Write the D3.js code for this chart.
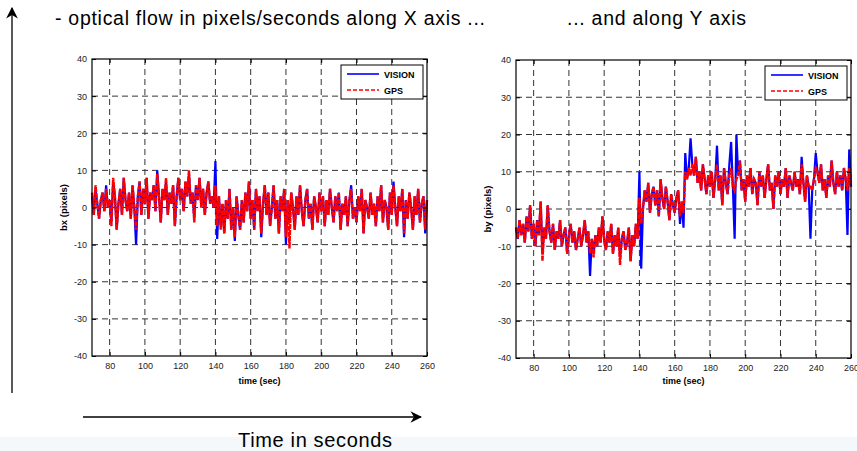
<!DOCTYPE html>
<html>
<head>
    <meta charset="utf-8">
    <title>Optical flow</title>
    <script src="https://d3js.org/d3.v7.min.js"></script>
    <style>
      body { margin: 0; background: #fff; }
      text { font-family: "Liberation Sans", Arial, sans-serif; }
    </style>
</head>

<body>

<div id="my_dataviz"></div>

<script>

// ---- data (1 sample / second, 70 .. 260 s)
var time = d3.range(70, 261, 1);

var xTicks = [80, 100, 120, 140, 160, 180, 200, 220, 240, 260];
var yTicks = [-40, -30, -20, -10, 0, 10, 20, 30, 40];

var bxVision = [
  3, -2, 5, 1, -3, 2, 4, -1, 6, 0,
  2, -4, 7, 3, -6, 1, 5, -2, 8, 2,
  -1, 4, -3, 6, 0, -10, 3, 7, -2, 5,
  1, 8, -3, 4, 2, 6, -1, 10, 3, -4,
  5, 2, 7, -2, 4, 1, 6, -5, 3, 8,
  2, 5, -1, 7, 3, 9, 1, 4, -3, 6,
  2, 8, 0, 5, -2, 4, 7, 1, 3, 0,
  12.5, -8.5, 3, -5, 1, -7, 2, -3, 5, -6,
  0, -9, 3, -2, -6, 2, -4, 4, -1, 7,
  -3, 2, -6, 5, -1, 3, -8, 1, 6, -2,
  4, -5, 0, 6, -3, 2, -7, 3, -1, 5,
  -10, 2, -4, 4, 0, -6, 3, -2, 6, -1,
  -5, 2, 5, -3, 1, -6, 3, 0, -4, 4,
  -1, 3, -5, 2, -2, 5, 0, -4, 3, -1,
  4, -6, 1, -2, 3, -5, 2, 6, -3, 0,
  -4, 3, -1, 5, -7, 2, 0, -3, 4, -2,
  1, -5, 3, -1, 6, -4, 2, 0, -6, 4,
  -2, 7, 0, -5, 3, -1, 5, -8, 2, -3,
  4, 0, -6, 3, -2, 5, -4, 1, 3, -7,
  2
];

var bxGps = [
  4, -2, 6, 1, -3, 2, 4, -1, 5, 0,
  2, -5, 8, 3, -6, 1, 5, -2, 8, 2,
  -1, 4, -3, 6, 0, -6, 3, 7, -2, 5,
  1, 8, -3, 4, 2, 6, -1, 9, 3, -4,
  5, 2, 8, -2, 4, 1, 6, -5, 3, 8,
  2, 5, -1, 7, 3, 10, 1, 4, -4, 6,
  2, 8, 0, 5, -2, 4, 7, 1, 3, 0,
  6, -5, 3, -6, 1, -7, 2, -3, 5, -6,
  0, -8, 3, -2, -6, 2, -4, 4, -1, 7,
  -3, 2, -6, 5, -1, 3, -7, 1, 6, -2,
  4, -5, 0, 6, -3, 2, -7, 3, -1, 5,
  -8, 2, -11, 4, 0, -6, 3, -2, 6, -1,
  -5, 2, 5, -3, 1, -6, 3, 0, -4, 4,
  -1, 3, -5, 2, -2, 5, 0, -4, 3, -1,
  4, -6, 1, -2, 3, -5, 2, 5, -3, 0,
  -4, 3, -1, 5, -7, 2, 0, -3, 4, -2,
  1, -5, 3, -1, 6, -4, 2, 0, -6, 4,
  -2, 6, 0, -5, 3, -1, 5, -7, 2, -3,
  4, 0, -6, 3, -2, 5, -4, 1, 3, -6,
  2
];

var byVision = [
  -5, -8, -3, -7, -4, -9, -2, -6, 1, -8,
  -4, -10, -3, -7, 2, -12, -5, -8, 1, -6,
  -9, -4, -11, -6, -8, -3, -10, -7, -5, -12,
  -7, -4, -9, -6, -11, -8, -5, -10, -7, -3,
  -9, -6, -18, -8, -12, -7, -10, -5, -9, -2,
  -8, -11, -6, -9, -4, -12, -7, -10, -5, -13,
  -8, -6, -11, -9, -5, -14, -7, -10, -4, -8,
  10, -16, 0, 5, 2, 7, -1, 4, 6, 1,
  5, -2, 8, 3, 0, 6, 2, -3, 4, 1,
  -1, 3, 5, -4, 2, -5, 15, 8, 11, 19,
  12, 9, 14, 7, 10, 5, 12, 8, 4, 9,
  6, 10, 3, 8, 17, 5, 9, 1, 11, 7,
  4, 12, 18, 6, -8, 20, 9, 13, 5, 8,
  2, 9, 6, 11, 4, 8, 7, 1, 10, 6,
  9, 3, 8, 12, 5, 7, 0, 9, 6, 10,
  4, 8, 6, 11, 3, 9, 7, 5, 10, 6,
  8, 4, 14, 7, 2, 9, 6, -8, 5, 8,
  15, 10, 7, 12, 5, 8, 3, 9, 6, 13,
  7, 4, 10, 6, 9, 5, 11, 8, -7, 16,
  6
];

var byGps = [
  -5, -8, -3, -7, -4, -9, -2, -6, 1, -8,
  -4, -10, -3, -7, 2, -14, -5, -8, 1, -6,
  -9, -4, -11, -6, -8, -3, -10, -7, -5, -12,
  -7, -4, -9, -6, -11, -8, -5, -10, -7, -3,
  -9, -6, -12, -8, -13, -7, -10, -5, -9, -2,
  -8, -11, -6, -9, -4, -12, -7, -10, -5, -15,
  -8, -6, -11, -9, -5, -14, -7, -10, -4, -8,
  3, -4, 0, 5, 2, 7, -1, 4, 6, 1,
  5, -2, 8, 3, 0, 6, 2, -3, 4, 1,
  -1, 3, 5, -2, 2, -1, 10, 8, 11, 9,
  12, 9, 14, 7, 10, 5, 12, 8, 4, 9,
  6, 10, 3, 8, 12, 5, 9, 1, 11, 7,
  4, 9, 11, 6, 5, 8, 9, 13, 5, 8,
  2, 9, 6, 11, 4, 8, 7, 1, 10, 6,
  9, 3, 8, 12, 5, 7, 0, 9, 6, 10,
  4, 8, 6, 11, 3, 9, 7, 5, 10, 6,
  8, 4, 12, 7, 2, 9, 6, 6, 5, 8,
  11, 10, 7, 12, 5, 8, 3, 9, 6, 13,
  7, 4, 10, 6, 9, 5, 11, 8, 5, 11,
  6
];

// two panels, pixel boxes of the axes
var panels = [
  { left: 92,  top: 59, right: 427, bottom: 356, label: "bx (pixels)", vision: bxVision, gps: bxGps },
  { left: 516, top: 60, right: 851, bottom: 358, label: "by (pixels)", vision: byVision, gps: byGps }
];

var W = 857, H = 451;

var svg = d3.select("#my_dataviz")
  .append("svg")
    .attr("width", W)
    .attr("height", H);

// faint band at the very bottom
svg.append("rect")
  .attr("x", 0).attr("y", 437)
  .attr("width", W).attr("height", H - 437)
  .attr("fill", "#f4f8fb");

// arrow marker
svg.append("defs").append("marker")
    .attr("id", "arrow")
    .attr("viewBox", "0 0 10 10")
    .attr("refX", 9).attr("refY", 5)
    .attr("markerWidth", 9).attr("markerHeight", 9)
    .attr("orient", "auto")
  .append("path")
    .attr("d", "M0,0 L10,5 L0,10 L3,5 z")
    .attr("fill", "#000");

// titles (the reference text is set wide, so stretch to its measured width)
svg.append("text")
  .attr("x", 55).attr("y", 25)
  .attr("font-size", 19.5)
  .attr("textLength", 430).attr("lengthAdjust", "spacing")
  .text("- optical flow in pixels/seconds along X axis ...");
svg.append("text")
  .attr("x", 567).attr("y", 25)
  .attr("font-size", 19.5)
  .attr("textLength", 179).attr("lengthAdjust", "spacing")
  .text("... and along Y axis");

// big arrows
svg.append("line")
  .attr("x1", 12).attr("y1", 393).attr("x2", 12).attr("y2", 8)
  .attr("stroke", "#000").attr("stroke-width", 1.3)
  .attr("marker-end", "url(#arrow)");
svg.append("line")
  .attr("x1", 83).attr("y1", 417).attr("x2", 421).attr("y2", 417)
  .attr("stroke", "#000").attr("stroke-width", 1.3)
  .attr("marker-end", "url(#arrow)");
svg.append("text")
  .attr("x", 238).attr("y", 447)
  .attr("font-size", 20)
  .attr("textLength", 154).attr("lengthAdjust", "spacing")
  .text("Time in seconds");

panels.forEach(function(p) {

  var x = d3.scaleLinear().domain([70, 260]).range([p.left, p.right]);
  var y = d3.scaleLinear().domain([-40, 40]).range([p.bottom, p.top]);

  var g = svg.append("g");

  // white plot area
  g.append("rect")
    .attr("x", p.left).attr("y", p.top)
    .attr("width", p.right - p.left).attr("height", p.bottom - p.top)
    .attr("fill", "#fff");

  // dashed grid
  g.selectAll(".vgrid")
    .data(xTicks.filter(function(d) { return d < 260; }))
    .enter().append("line")
      .attr("x1", function(d) { return x(d); })
      .attr("x2", function(d) { return x(d); })
      .attr("y1", p.top).attr("y2", p.bottom)
      .attr("stroke", "#333").attr("stroke-width", 1)
      .attr("stroke-dasharray", "6,4");
  g.selectAll(".hgrid")
    .data(yTicks.filter(function(d) { return d > -40 && d < 40; }))
    .enter().append("line")
      .attr("y1", function(d) { return y(d); })
      .attr("y2", function(d) { return y(d); })
      .attr("x1", p.left).attr("x2", p.right)
      .attr("stroke", "#333").attr("stroke-width", 1)
      .attr("stroke-dasharray", "6,4");

  // series
  var line = d3.line()
    .x(function(d, i) { return x(time[i]); })
    .y(function(d) { return y(d); });

  g.append("path")
    .datum(p.vision)
    .attr("fill", "none")
    .attr("stroke", "#0000ff")
    .attr("stroke-width", 2.2)
    .attr("d", line);

  g.append("path")
    .datum(p.gps)
    .attr("fill", "none")
    .attr("stroke", "#ff0000")
    .attr("stroke-width", 2.4)
    .attr("stroke-dasharray", "5,1")
    .attr("d", line);

  // plain hyphen for negatives, like the original
  var fmt = function(d) { return String(d); };

  // axes: ticks inside on all four sides
  g.append("g")
    .attr("transform", "translate(0," + p.bottom + ")")
    .call(d3.axisBottom(x).tickValues(xTicks).tickSize(-4).tickPadding(7).tickFormat(fmt))
    .call(function(a) { a.select(".domain").remove(); });
  g.append("g")
    .attr("transform", "translate(0," + p.top + ")")
    .call(d3.axisTop(x).tickValues(xTicks).tickSize(-4).tickFormat(""))
    .call(function(a) { a.select(".domain").remove(); });
  g.append("g")
    .attr("transform", "translate(" + p.left + ",0)")
    .call(d3.axisLeft(y).tickValues(yTicks).tickSize(-4).tickPadding(5).tickFormat(fmt))
    .call(function(a) { a.select(".domain").remove(); });
  g.append("g")
    .attr("transform", "translate(" + p.right + ",0)")
    .call(d3.axisRight(y).tickValues(yTicks).tickSize(-4).tickFormat(""))
    .call(function(a) { a.select(".domain").remove(); });

  g.selectAll(".tick text")
    .attr("font-family", "Liberation Sans, Arial, sans-serif")
    .attr("font-size", 9)
    .attr("fill", "#222");
  g.selectAll(".tick line").attr("stroke", "#000");

  // frame
  g.append("rect")
    .attr("x", p.left).attr("y", p.top)
    .attr("width", p.right - p.left).attr("height", p.bottom - p.top)
    .attr("fill", "none")
    .attr("stroke", "#000").attr("stroke-width", 1.2);

  // axis labels
  g.append("text")
    .attr("x", (p.left + p.right) / 2).attr("y", 384)
    .attr("text-anchor", "middle")
    .attr("font-size", 9).attr("font-weight", "bold")
    .text("time (sec)");
  g.append("text")
    .attr("transform", "translate(" + (p.left - 25) + "," + ((p.top + p.bottom) / 2) + ") rotate(-90)")
    .attr("text-anchor", "middle")
    .attr("font-size", 9.5).attr("font-weight", "bold")
    .text(p.label);

  // legend
  var lx = p.right - 86, ly = p.top + 6;
  var leg = g.append("g").attr("transform", "translate(" + lx + "," + ly + ")");
  leg.append("rect")
    .attr("width", 82).attr("height", 34)
    .attr("fill", "#fff").attr("stroke", "#000").attr("stroke-width", 1);
  leg.append("line")
    .attr("x1", 6).attr("x2", 38).attr("y1", 9).attr("y2", 9)
    .attr("stroke", "#0000ff").attr("stroke-width", 1.6);
  leg.append("line")
    .attr("x1", 6).attr("x2", 38).attr("y1", 25).attr("y2", 25)
    .attr("stroke", "#ff0000").attr("stroke-width", 1.6)
    .attr("stroke-dasharray", "4,2");
  leg.append("text")
    .attr("x", 43).attr("y", 12.5)
    .attr("font-size", 9).attr("font-weight", "bold")
    .text("VISION");
  leg.append("text")
    .attr("x", 43).attr("y", 28.5)
    .attr("font-size", 9).attr("font-weight", "bold")
    .text("GPS");
});

</script>

</body>
</html>
